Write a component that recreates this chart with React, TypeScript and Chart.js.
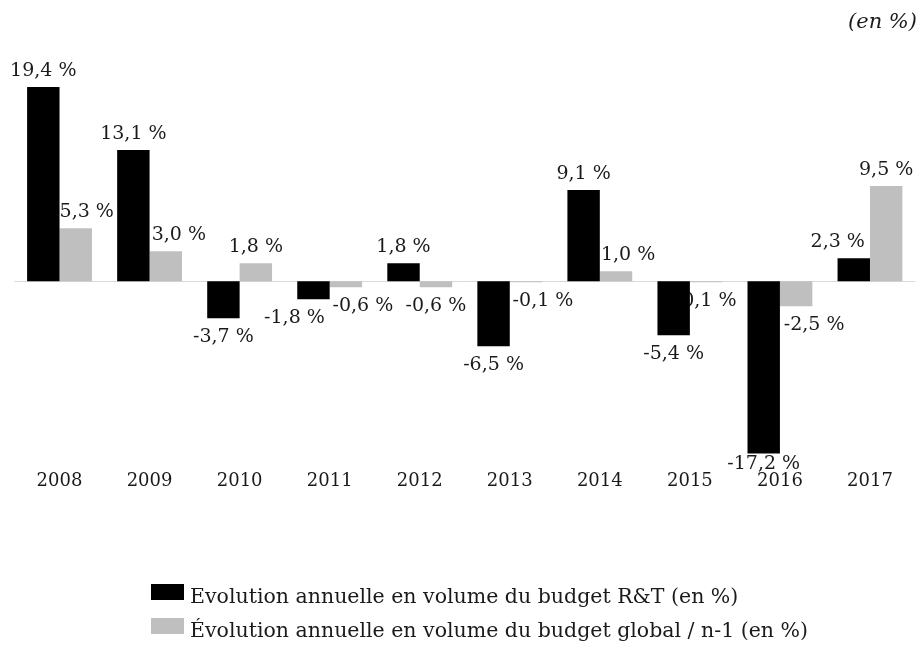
import React, { useEffect, useRef } from "react";
import { Chart, registerables } from "chart.js";

Chart.register(...registerables);

const years = ["2008", "2009", "2010", "2011", "2012", "2013", "2014", "2015", "2016", "2017"];
const rtBudget = [19.4, 13.1, -3.7, -1.8, 1.8, -6.5, 9.1, -5.4, -17.2, 2.3];
const globalBudget = [5.3, 3.0, 1.8, -0.6, -0.6, -0.1, 1.0, -0.1, -2.5, 9.5];
const seriesNames = [
  "Evolution annuelle en volume du budget R&T (en %)",
  "Évolution annuelle en volume du budget global / n-1 (en %)",
];
// nudges of the value labels (as placed in the original)
const rtLabelShift = [0, 0, 0, -19, 0, 0, 0, 0, 0, -16];
const globalLabelShift = [11, 13, 0, 17, 0, 17, 12, 0, 18, 0];
const rtLabelLift = [0, 0, 0, 0, 0, 0, 0, 0, -8, 0];
const globalLabelLift = [0, 0, 0, 0, 0, 0, 0, 0, 0, 0];
const unitNote = "(en %)";

const FONT = "'DejaVu Serif', serif";

const fmt = (v: number) => v.toFixed(1).replace(".", ",") + " %";

const zeroLinePlugin = {
  id: "zeroLine",
  beforeDatasetsDraw(chart: any) {
    const { ctx, chartArea, scales } = chart;
    const y = Math.round(scales.y.getPixelForValue(0)) + 0.5;
    ctx.save();
    ctx.strokeStyle = "#d9d9d9";
    ctx.lineWidth = 1;
    ctx.beginPath();
    ctx.moveTo(chartArea.left, y);
    ctx.lineTo(chartArea.right, y);
    ctx.stroke();
    ctx.restore();
  },
};

const valueLabelPlugin = {
  id: "valueLabels",
  beforeDatasetsDraw(chart: any) {
    const { ctx } = chart;
    const shifts = [rtLabelShift, globalLabelShift];
    const lifts = [rtLabelLift, globalLabelLift];
    ctx.save();
    ctx.font = `19px ${FONT}`;
    ctx.fillStyle = "#1a1a1a";
    ctx.textAlign = "center";
    ctx.textBaseline = "middle";
    chart.data.datasets.forEach((ds: any, di: number) => {
      const meta = chart.getDatasetMeta(di);
      meta.data.forEach((bar: any, i: number) => {
        const v = ds.data[i] as number;
        const x = bar.x + shifts[di][i];
        const y = (v >= 0 ? bar.y - 16 : bar.y + 19) + lifts[di][i];
        ctx.fillText(fmt(v), x, y);
      });
    });
    ctx.restore();
  },
};

const extrasPlugin = {
  id: "extras",
  afterDraw(chart: any) {
    const { ctx } = chart;
    ctx.save();
    ctx.font = `italic 21px ${FONT}`;
    ctx.fillStyle = "#1a1a1a";
    ctx.textAlign = "right";
    ctx.textBaseline = "middle";
    ctx.fillText(unitNote, 917, 23);
    ctx.textAlign = "left";
    ctx.textBaseline = "alphabetic";
    ctx.font = `20.5px ${FONT}`;
    chart.data.datasets.forEach((ds: any, i: number) => {
      const top = 584 + i * 34;
      ctx.fillStyle = ds.backgroundColor;
      ctx.fillRect(151, top, 33, 16);
      ctx.fillStyle = "#1a1a1a";
      ctx.fillText(ds.label, 190, top + 19);
    });
    ctx.restore();
  },
};

export default function App() {
  const canvasRef = useRef<HTMLCanvasElement | null>(null);

  useEffect(() => {
    document.body.style.margin = "0";
    const canvas = canvasRef.current;
    if (!canvas) return;
    const chart = new Chart(canvas, {
      type: "bar",
      data: {
        labels: years,
        datasets: [
          { label: seriesNames[0], data: rtBudget, backgroundColor: "#000000" },
          { label: seriesNames[1], data: globalBudget, backgroundColor: "#bfbfbf" },
        ],
      },
      options: {
        responsive: false,
        animation: false,
        layout: { padding: { left: 14.5, right: 6, top: 81, bottom: 147 } },
        datasets: { bar: { categoryPercentage: 0.72, barPercentage: 1 } },
        scales: {
          x: {
            grid: { display: false, drawTicks: false },
            border: { display: false },
            ticks: { color: "#1a1a1a", font: { family: FONT, size: 18 }, padding: 9 },
          },
          y: { display: false, min: -18, max: 20 },
        },
        plugins: {
          legend: { display: false },
          tooltip: { enabled: false },
        },
      },
      plugins: [zeroLinePlugin, valueLabelPlugin, extrasPlugin],
    });
    return () => chart.destroy();
  }, []);

  return (
    <div style={{ width: 921, height: 648 }}>
      <canvas ref={canvasRef} width={921} height={648} />
    </div>
  );
}
